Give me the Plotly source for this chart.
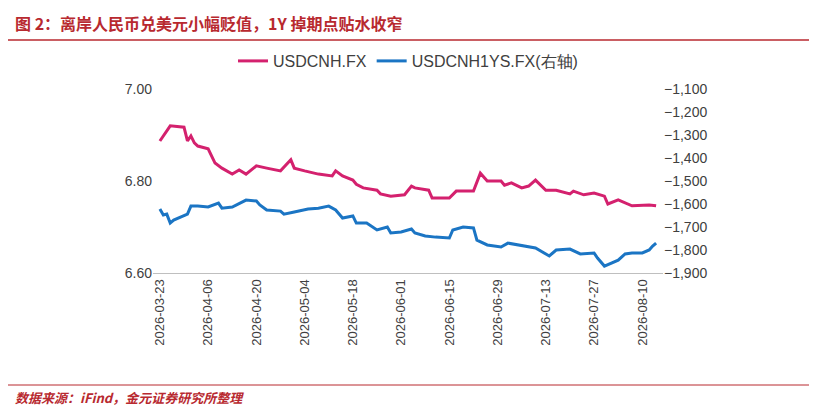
import plotly.graph_objects as go

cnh_dates = ["2026-03-23","2026-03-24","2026-03-26","2026-03-30","2026-03-31","2026-04-01","2026-04-02","2026-04-03","2026-04-06","2026-04-08","2026-04-10","2026-04-13","2026-04-15","2026-04-17","2026-04-20","2026-04-23","2026-04-27","2026-04-30","2026-05-01","2026-05-04","2026-05-08","2026-05-12","2026-05-13","2026-05-15","2026-05-18","2026-05-19","2026-05-21","2026-05-25","2026-05-26","2026-05-29","2026-06-02","2026-06-04","2026-06-05","2026-06-09","2026-06-10","2026-06-15","2026-06-17","2026-06-22","2026-06-24","2026-06-26","2026-06-30","2026-07-01","2026-07-03","2026-07-06","2026-07-08","2026-07-10","2026-07-13","2026-07-16","2026-07-20","2026-07-21","2026-07-24","2026-07-27","2026-07-30","2026-07-31","2026-08-03","2026-08-07","2026-08-12","2026-08-14"]
cnh_values = [6.887,6.898,6.920,6.917,6.887,6.898,6.883,6.876,6.870,6.839,6.828,6.815,6.824,6.815,6.833,6.828,6.822,6.846,6.828,6.822,6.815,6.811,6.822,6.811,6.802,6.793,6.785,6.780,6.772,6.767,6.770,6.789,6.785,6.780,6.763,6.763,6.778,6.778,6.817,6.800,6.800,6.791,6.796,6.785,6.789,6.802,6.780,6.780,6.772,6.778,6.770,6.774,6.767,6.750,6.759,6.746,6.748,6.746]

sw_dates = ["2026-03-23","2026-03-24","2026-03-25","2026-03-26","2026-03-27","2026-03-30","2026-03-31","2026-04-01","2026-04-03","2026-04-06","2026-04-08","2026-04-09","2026-04-10","2026-04-13","2026-04-17","2026-04-20","2026-04-21","2026-04-23","2026-04-27","2026-04-28","2026-05-01","2026-05-05","2026-05-08","2026-05-11","2026-05-13","2026-05-15","2026-05-18","2026-05-19","2026-05-22","2026-05-25","2026-05-28","2026-05-29","2026-06-01","2026-06-04","2026-06-05","2026-06-08","2026-06-11","2026-06-15","2026-06-16","2026-06-19","2026-06-22","2026-06-23","2026-06-26","2026-06-30","2026-07-02","2026-07-07","2026-07-10","2026-07-14","2026-07-16","2026-07-20","2026-07-23","2026-07-27","2026-07-28","2026-07-30","2026-08-03","2026-08-05","2026-08-07","2026-08-10","2026-08-12","2026-08-13","2026-08-14"]
sw_values = [-1622,-1648,-1644,-1683,-1670,-1652,-1644,-1609,-1609,-1613,-1600,-1596,-1618,-1613,-1583,-1587,-1604,-1626,-1631,-1644,-1635,-1622,-1618,-1609,-1626,-1661,-1652,-1683,-1683,-1713,-1700,-1726,-1722,-1709,-1726,-1739,-1744,-1748,-1713,-1700,-1704,-1757,-1778,-1787,-1770,-1783,-1791,-1826,-1800,-1796,-1817,-1813,-1835,-1870,-1844,-1817,-1813,-1813,-1800,-1783,-1770]

tick_dates = ["2026-03-23","2026-04-06","2026-04-20","2026-05-04","2026-05-18","2026-06-01","2026-06-15","2026-06-29","2026-07-13","2026-07-27","2026-08-10"]

PINK = "#D4216E"
BLUE = "#1B75C4"
RED = "#B8292F"
font = "Noto Sans CJK SC"

fig = go.Figure()
fig.add_trace(go.Scatter(x=cnh_dates, y=cnh_values, name="USDCNH.FX", mode="lines",
                         line=dict(color=PINK, width=3)))
fig.add_trace(go.Scatter(x=sw_dates, y=sw_values, name="USDCNH1YS.FX(右轴)", mode="lines",
                         line=dict(color=BLUE, width=3), yaxis="y2"))

fig.update_layout(
    width=817, height=406, paper_bgcolor="white", plot_bgcolor="white",
    margin=dict(l=145, r=162, t=81, b=141),
    font=dict(family=font, color="#404040", size=13),
    showlegend=True,
    legend=dict(orientation="h", x=0.5, xanchor="center", y=1+(81-53)/184, yanchor="middle",
                font=dict(size=16, family="Liberation Sans", color="#404040")),
    xaxis=dict(type="date", range=["2026-03-21", "2026-08-16"], tickvals=tick_dates,
               ticktext=tick_dates, tickangle=-90, showgrid=False,
               showline=True, linecolor="#BFBFBF", ticks="", tickfont=dict(size=13, family="Liberation Sans")),
    yaxis=dict(range=[6.6, 7.0], tickvals=[6.6, 6.8, 7.0], ticktext=["6.60", "6.80", "7.00"],
               showgrid=False, zeroline=False, tickfont=dict(size=14, family="Liberation Sans")),
    yaxis2=dict(overlaying="y", side="right", range=[-1900, -1100], dtick=100,
                tickformat=",", showgrid=False, zeroline=False,
                tickfont=dict(size=14, family="Liberation Sans")),
    shapes=[
        dict(type="line", xref="paper", yref="paper", x0=-145/510, x1=(817-145)/510,
             y0=1+(81-32)/184, y1=1+(81-32)/184, line=dict(color=RED, width=1.5)),
        dict(type="line", xref="paper", yref="paper", x0=-145/510, x1=(817-145)/510,
             y0=-(377-265)/184, y1=-(377-265)/184, line=dict(color=RED, width=1)),
    ],
    annotations=[
        dict(text="<b>图 2：离岸人民币兑美元小幅贬值，1Y 掉期点贴水收窄</b>", xref="paper", yref="paper",
             x=-140/510, y=1+(81-15)/184, xanchor="left", yanchor="middle", showarrow=False,
             font=dict(size=16, color=RED, family=font)),
        dict(text="<b><i>数据来源：iFind，金元证券研究所整理</i></b>", xref="paper", yref="paper",
             x=-140/510, y=-(389-265)/184, xanchor="left", yanchor="middle", showarrow=False,
             font=dict(size=13, color=RED, family=font)),
    ],
)
fig.write_html("out.html")
